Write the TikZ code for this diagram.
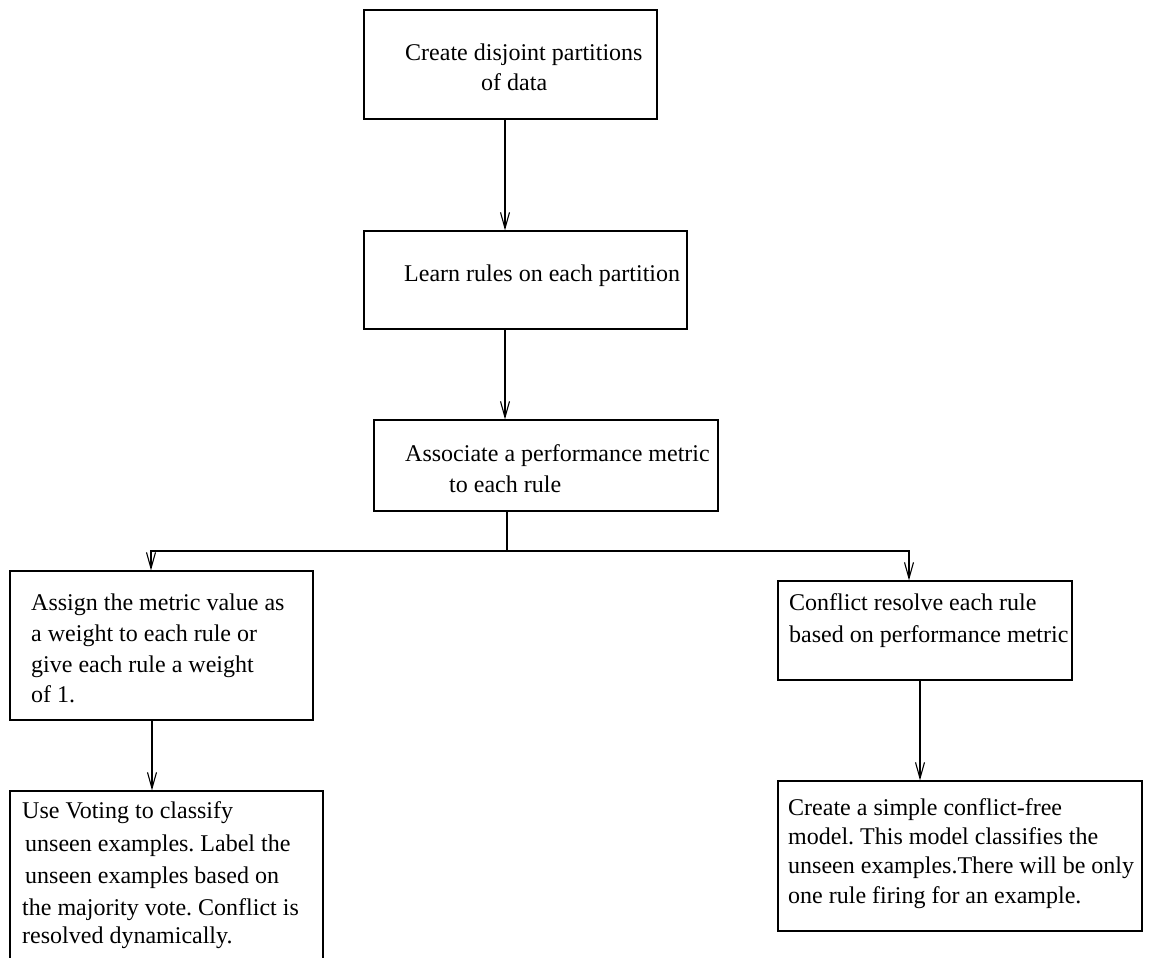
\documentclass[tikz,border=0pt]{standalone}
\usepackage{fontspec}
\setmainfont{Liberation Serif}
\usetikzlibrary{arrows.meta}
\frenchspacing

\tikzset{
  stagebox/.style={draw=black, line width=1.2pt, rectangle, inner sep=0pt},
  txt/.style={anchor=base west, inner sep=0pt, font=\fontsize{24}{29}\selectfont},
  flow/.style={line width=1.1pt, -{Straight Barb[length=16pt,width=9pt,line width=1.1pt]}},
  wire/.style={line width=1.1pt}
}
% a box given by its corners, in pixel units measured from the top left
\newcommand\stage[5]{%
  \node[stagebox, minimum width=#4pt-#2pt, minimum height=#5pt-#3pt]
    (#1) at ({(#2+#4)/2},{(#3+#5)/2}) {};}
\newcommand\textrow[4]{\node[txt] (#1) at (#2,#3) {#4};}

\begin{document}
\begin{tikzpicture}[x=1pt, y=-1pt]
\useasboundingbox (0,0) rectangle (1149,958);
\clip (0,0) rectangle (1149,958);

% boxes
\stage{b1}{364}{10}{657}{119}
\stage{b2}{364}{231}{687}{329}
\stage{b3}{374}{420}{718}{511}
\stage{b4}{10}{571}{313}{720}
\stage{b5}{10}{791}{323}{1000}
\stage{b6}{778}{581}{1072}{680}
\stage{b7}{778}{781}{1142}{931}

% texts
\textrow{t1a}{405}{61}{Create disjoint partitions}
\textrow{t1b}{481}{90}{of data}

\textrow{t2a}{404}{281}{Learn rules on each partition}

\textrow{t3a}{405}{461}{Associate a performance metric}
\textrow{t3b}{449}{492}{to each rule}

\textrow{t4a}{31}{610}{Assign the metric value as}
\textrow{t4b}{31}{641}{a weight to each rule or}
\textrow{t4c}{31}{672}{give each rule a weight}
\textrow{t4d}{31}{702}{of 1.}

\textrow{t5a}{22}{818}{Use Voting to classify}
\textrow{t5b}{25}{851}{unseen examples. Label the}
\textrow{t5c}{25}{883}{unseen examples based on}
\textrow{t5d}{22}{915}{the majority vote. Conflict is}
\textrow{t5e}{22}{943}{resolved dynamically.}

\textrow{t6a}{789}{610}{Conflict resolve each rule}
\textrow{t6b}{789}{642}{based on performance metric}

\textrow{t7a}{788}{815}{Create a simple conflict-free}
\textrow{t7b}{788}{844}{model. This model classifies the}
\textrow{t7c}{788}{873}{unseen examples.There will be only}
\textrow{t7d}{788}{903}{one rule firing for an example.}

% connector guide positions
\coordinate (spine) at (505,0);
\coordinate (fork) at (507,551);
\coordinate (lft) at (151,0);
\coordinate (rgt) at (909,0);
\coordinate (ldown) at (152,0);
\coordinate (rdown) at (920,0);

% connectors
\draw[flow] (b1.south -| spine) -- (b2.north -| spine);
\draw[flow] (b2.south -| spine) -- (b3.north -| spine);
\draw[wire] (b3.south -| fork) -- (fork);
\draw[flow] (fork) -| (b4.north -| lft);
\draw[flow] (fork) -| (b6.north -| rgt);
\draw[flow] (b4.south -| ldown) -- (b5.north -| ldown);
\draw[flow] (b6.south -| rdown) -- (b7.north -| rdown);
\end{tikzpicture}
\end{document}
